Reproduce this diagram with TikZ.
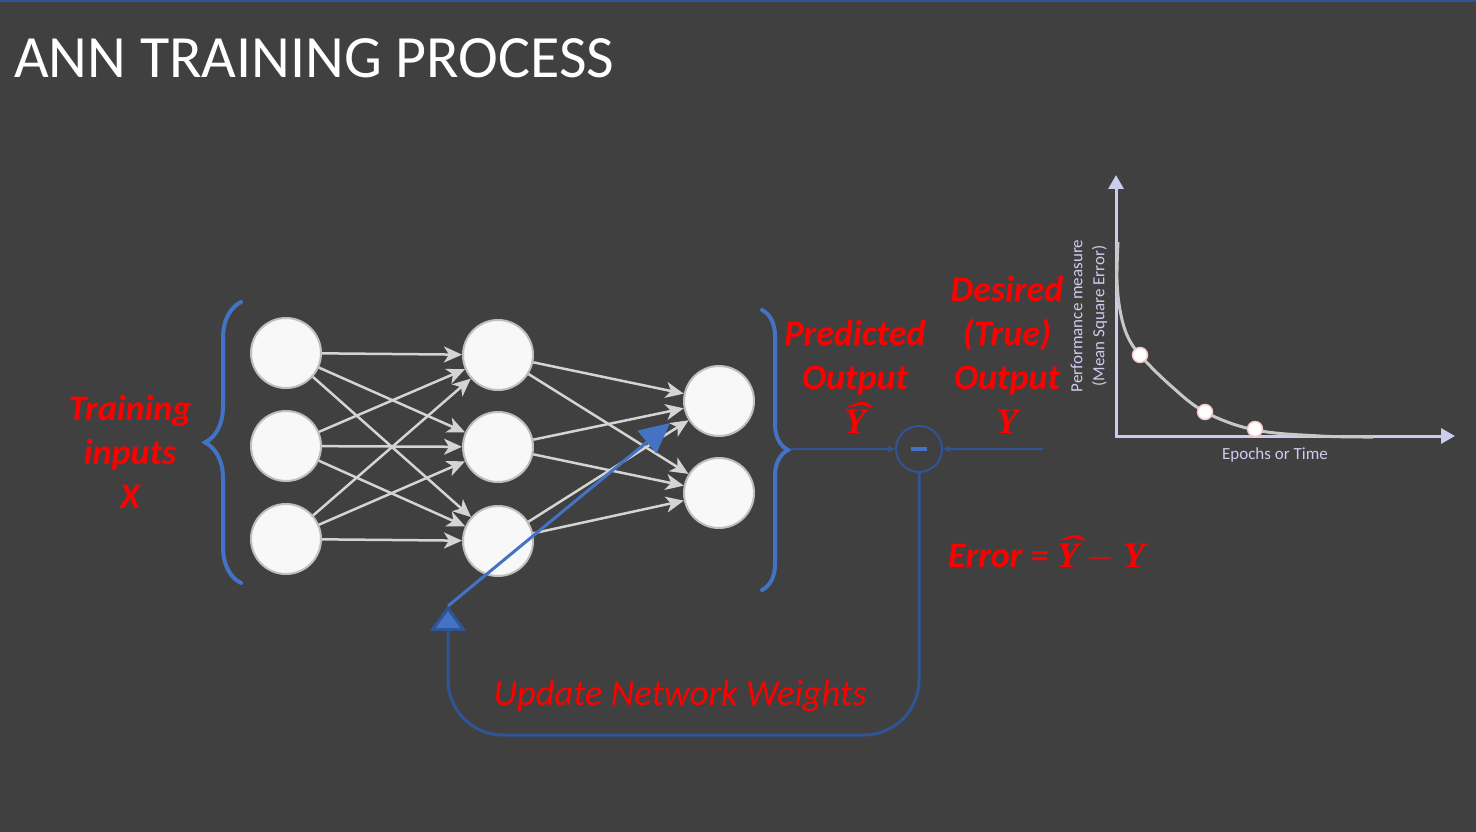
\RequirePackage{fix-cm}
\documentclass[tikz,border=0pt]{standalone}
\usepackage{fontspec}
\setmainfont{Carlito}
\newfontfamily\yfont{Liberation Serif}
\usetikzlibrary{arrows.meta,decorations.pathreplacing}

\definecolor{slidebg}{RGB}{64,64,64}
\definecolor{slideblue}{RGB}{68,114,196}
\definecolor{darkblue}{RGB}{47,85,151}
\definecolor{neurongrey}{RGB}{191,191,191}
\definecolor{neuronfill}{RGB}{248,248,248}
\definecolor{linkgrey}{RGB}{212,212,212}
\definecolor{axislilac}{RGB}{204,204,238}
\definecolor{curvegrey}{RGB}{200,200,200}
\definecolor{dotpink}{RGB}{245,200,200}

\newcommand{\ysym}{\hbox{\yfont\bfseries\itshape Y}}
\newcommand{\yhatsym}{\ooalign{\ysym\cr\hidewidth\kern3pt\raisebox{8.5pt}{\scalebox{2.2}[0.9]{\yfont\bfseries ˆ}}\hidewidth\cr}}

\tikzset{
    neuron/.style={circle, fill=neuronfill, draw=neurongrey, line width=2pt, minimum size=70pt, inner sep=0pt},
    link/.style={linkgrey, line width=2.5pt, -{Stealth[length=18pt,width=16pt,inset=5pt]}},
    redlabel/.style={text=red, font=\fontsize{36}{44}\selectfont\bfseries\itshape, align=center, inner sep=0pt},
    chartlabel/.style={text=axislilac, font=\fontsize{17}{22}\selectfont, align=center, inner sep=0pt},
    bluebrace/.style={slideblue, line width=4pt, line cap=round, decorate},
}

\begin{document}
\begin{tikzpicture}[x=1pt,y=-1pt]
    \fill[slidebg] (0,0) rectangle (1476,832);
    \useasboundingbox (0,0) rectangle (1476,832);
    \fill[darkblue] (0,0) rectangle (1476,2);

    % Title
    \node[anchor=base west, text=white, font=\fontsize{60}{72}\selectfont, inner sep=0pt] (title) at (14,78) {ANN TRAINING PROCESS};

    % Network
    \foreach \n/\y in {1/353,2/446,3/539}
        \node[neuron] (i\n) at (286,\y) {};
    \foreach \n/\y in {1/355,2/447,3/541}
        \node[neuron] (h\n) at (498,\y) {};
    \foreach \n/\y in {1/401,2/493}
        \node[neuron] (o\n) at (719,\y) {};
    \foreach \a in {1,2,3}
        \foreach \b in {1,2,3}
            \draw[link] (i\a) -- (h\b);
    \foreach \a in {1,2,3}
        \foreach \b in {1,2}
            \draw[link] (h\a) -- (o\b);

    % Braces
    \draw[bluebrace, decoration={brace, amplitude=36pt}] (241,583) -- (241,302);
    \draw[bluebrace, decoration={brace, amplitude=26pt}] (762,310) -- (762,590);

    % Comparison
    \coordinate (yhat) at (790,449);
    \coordinate (ytrue) at (1043,449);
    \node[circle, draw=darkblue, line width=2pt, minimum size=46pt, inner sep=0pt] (diff) at (919,449) {\textcolor{slideblue}{\rule[-2pt]{16pt}{4pt}}};
    \draw[darkblue, line width=2pt, -{Stealth[length=8pt,width=7pt]}] (yhat) -- (diff);
    \draw[darkblue, line width=2pt, -{Stealth[length=8pt,width=7pt]}] (ytrue) -- (diff);

    % Feedback loop
    \coordinate (wtip) at (448,606);
    \coordinate (wlow) at (448,735);
    \coordinate (wend) at (670,423);
    \draw[darkblue, line width=3pt, rounded corners=55pt, -{Triangle[width=36pt,length=25pt,fill=slideblue]}] (diff.south) |- (wlow) -- (wtip);
    \draw[slideblue, line width=3pt, -{Triangle[width=29pt,length=30pt]}] (wtip) -- (wend);

    % Labels
    \node[redlabel] (xin) at (130,452) {Training\\inputs\\X};
    \node[redlabel] (ypred) at (855,377) {Predicted\\Output\\\yhatsym};
    \node[redlabel] (ydes) at (1007,355) {Desired\\(True)\\Output\\\ysym};
    \node[redlabel, anchor=base west] (err) at (948,567) {Error = \yhatsym\ $-$ \ysym};
    \node[text=red, font=\fontsize{36.5}{44}\selectfont\itshape, anchor=base, inner sep=0pt] (update) at (680,705) {Update Network Weights};

    % Error curve
    \coordinate (org) at (1116,436);
    \draw[axislilac, line width=3pt, {Triangle[width=15pt,length=14pt]}-{Triangle[width=15pt,length=14pt]}] (1116,175) -- (org) -- (1455,436);
    \draw[curvegrey, line width=3pt] plot[smooth, tension=0.6] coordinates {(1118,242) (1117,280) (1120,310) (1127,335) (1140,355) (1170,385) (1205,412) (1255,430) (1320,436) (1373,437)};
    \foreach \x/\y in {1140/355,1205/412,1255/429}
        \draw[dotpink, fill=white, line width=1.5pt] (\x,\y) circle (7.5pt);
    \node[chartlabel, rotate=90] (perf) at (1089,316) {Performance measure\\(Mean Square Error)};
    \node[chartlabel, anchor=base] (epochs) at (1275,459) {Epochs or Time};
\end{tikzpicture}
\end{document}
